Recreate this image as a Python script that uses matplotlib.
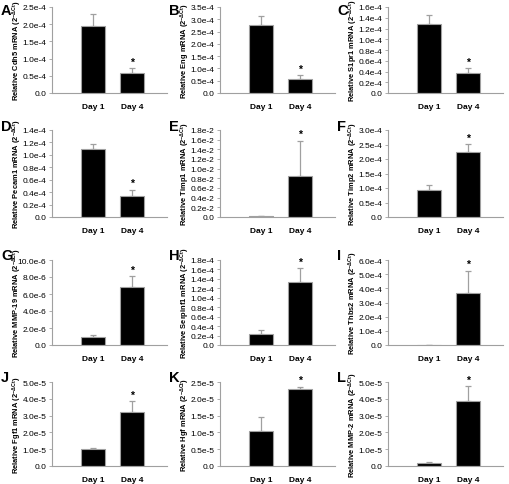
import matplotlib.pyplot as plt
import numpy as np

plt.rcParams['font.family'] = ['Liberation Sans', 'DejaVu Sans']
plt.rcParams['mathtext.fontset'] = 'custom'
plt.rcParams['mathtext.rm'] = 'Liberation Sans'
plt.rcParams['mathtext.bf'] = 'Liberation Sans:bold'

letters = ["A", "B", "C", "D", "E", "F", "G", "H", "I", "J", "K", "L"]
genes = ["Cdh5", "Eng", "S1pr1", "Pecam1", "Timp1", "Timp2",
         "MMP-19", "Serpinf1", "Thbs2", "Fgf1", "Hgf", "MMP-2"]
days = ["Day 1", "Day 4"]
day1 = [1.95e-4, 2.75e-4, 1.29e-4, 1.09e-4, 0.02e-2, 0.93e-4,
        1.0e-6, 0.24e-4, 0.005e-4, 1.03e-5, 1.05e-5, 0.2e-5]
day1_err = [0.35e-4, 0.40e-4, 0.16e-4, 0.08e-4, 0.004e-2, 0.17e-4,
            0.2e-6, 0.08e-4, 0.003e-4, 0.07e-5, 0.40e-5, 0.02e-5]
day4 = [0.57e-4, 0.58e-4, 0.38e-4, 0.34e-4, 0.85e-2, 2.24e-4,
        6.85e-6, 1.34e-4, 3.68e-4, 3.22e-5, 2.30e-5, 3.85e-5]
day4_err = [0.16e-4, 0.14e-4, 0.09e-4, 0.10e-4, 0.73e-2, 0.28e-4,
            1.25e-6, 0.29e-4, 1.57e-4, 0.66e-5, 0.06e-5, 0.90e-5]
ymax = [2.5e-4, 3.5e-4, 1.6e-4, 1.4e-4, 1.8e-2, 3.0e-4,
        10e-6, 1.8e-4, 6e-4, 5e-5, 2.5e-5, 5e-5]
ystep = [0.5e-4, 0.5e-4, 0.2e-4, 0.2e-4, 0.2e-2, 0.5e-4,
         2e-6, 0.2e-4, 1e-4, 1e-5, 0.5e-5, 1e-5]
yexp = [-4, -4, -4, -4, -2, -4, -6, -4, -4, -5, -5, -5]

W, H = 510, 485
fig = plt.figure(figsize=(W / 100, H / 100), dpi=100)

col_left = [52, 220, 388]
ax_w = 115
row_bottom = [94, 218, 346, 467]
row_top = [8, 131, 261, 383]
letter_y = [11, 127, 256, 378]
grey = '#a0a0a0'

for i, gene in enumerate(genes):
    r, c = divmod(i, 3)
    x0 = col_left[c]
    ax = fig.add_axes([x0 / W, 1 - row_bottom[r] / H, ax_w / W,
                       (row_bottom[r] - row_top[r]) / H])
    vals = [day1[i], day4[i]]
    errs = [day1_err[i], day4_err[i]]
    xs = np.arange(2)
    ax.bar(xs, vals, width=0.62, color='black', edgecolor=grey, linewidth=0.8, zorder=2)
    ax.errorbar(xs, vals, yerr=[[0, 0], errs], fmt='none', ecolor=grey,
                elinewidth=0.9, capsize=2, capthick=0.9, zorder=1)
    ax.annotate('*', (1, vals[1] + errs[1]), xytext=(0, 1), textcoords='offset points',
                ha='center', va='bottom', fontsize=7.5, fontweight='bold')
    ax.set_xlim(-1.05, 1.9)
    ax.set_ylim(0, ymax[i])
    ticks = np.arange(0, ymax[i] + ystep[i] / 2, ystep[i])
    ax.set_yticks(ticks)
    labs = ["0.0" if k == 0 else f"{t / 10 ** yexp[i]:.1f}e{yexp[i]}" for k, t in enumerate(ticks)]
    ax.set_yticklabels(labs, fontsize=6)
    ax.set_xticks(xs)
    ax.set_xticklabels(days, fontsize=6, fontweight='bold')
    ax.tick_params(axis='x', length=0, pad=7)
    ax.tick_params(axis='y', length=2, width=0.6, color=grey, pad=2)
    for s in ['top', 'right']:
        ax.spines[s].set_visible(False)
    for s in ['left', 'bottom']:
        ax.spines[s].set_color(grey)
        ax.spines[s].set_linewidth(0.8)
    ax.set_ylabel(f"Relative {gene} mRNA (2$^{{\\mathbf{{-\\Delta Ct}}}}$)",
                  fontsize=5.4, fontweight='bold')
    ax.yaxis.set_label_coords(-28 / ax_w, 0.5)
    fig.text((x0 - 51) / W, 1 - letter_y[r] / H, letters[i], fontsize=10.5,
             fontweight='bold', ha='left', va='center')

fig.savefig('out.png', dpi=100)
